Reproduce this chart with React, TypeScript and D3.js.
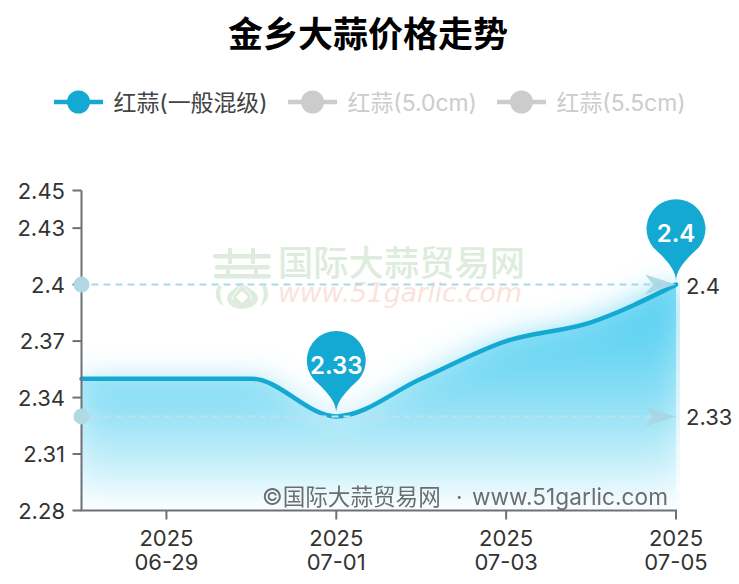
import React from 'react';
import * as d3 from 'd3';

const dates = ['2025-06-28', '2025-06-29', '2025-06-30', '2025-07-01', '2025-07-02', '2025-07-03', '2025-07-04', '2025-07-05'];
const values = [2.35, 2.35, 2.35, 2.33, 2.35, 2.37, 2.38, 2.4];
const yTicks = [2.28, 2.31, 2.34, 2.37, 2.4, 2.43, 2.45];
const xTicks = ['2025-06-29', '2025-07-01', '2025-07-03', '2025-07-05'];
const legendItems = ['红蒜(一般混级)', '红蒜(5.0cm)', '红蒜(5.5cm)'];
const markLines = [2.4, 2.33];
const markPoints = [
  { date: '2025-07-01', value: 2.33 },
  { date: '2025-07-05', value: 2.4 }
];

const WIDTH = 739;
const HEIGHT = 584;
const LEFT = 81.5;
const RIGHT = 676;
const TOP = 190.5;
const BOTTOM = 510.5;
const MAIN = '#14a9d2';
const AXIS = '#6e7079';
const FONT = 'Inter, "Noto Sans CJK SC", sans-serif';
const CJK = '"Noto Sans CJK SC", sans-serif';

const legendX = [54, 288, 497];

// 水印里的大蒜图标
function Logo() {
  return (
    <g fill="#deecde">
      <rect x={213} y={254} width={58} height={4.5} rx={2} />
      <rect x={228} y={248} width={4} height={16} />
      <rect x={251} y={248} width={4} height={16} />
      <rect x={215} y={265} width={55} height={4.5} rx={2} />
      <rect x={214} y={274} width={57} height={4.5} rx={2} />
      <rect x={226} y={265} width={4} height={10} />
      <rect x={254} y={265} width={4} height={10} />
      <path d="M242 282 C238 288 227 291 227 298 C227 305 235 309 242 309 C249 309 258 305 258 298 C258 291 246 288 242 282 Z" />
      <path d="M242 291 L248 297 L242 303 L236 297 Z" fill="#fff" />
      <path d="M242 284 C238 290 233 293 232 300 M242 284 C246 290 251 293 252 300" fill="none" stroke="#fff" strokeWidth={1} />
      <path d="M218 286 C214 292 215 302 224 306 C220 300 219 293 222 286 Z" />
      <path d="M266 286 C270 292 269 302 260 306 C264 300 265 293 262 286 Z" />
    </g>
  );
}

export default function App() {
  const x = d3
    .scalePoint()
    .domain(dates)
    .range([LEFT, RIGHT]);

  const y = d3
    .scaleLinear()
    .domain([2.28, 2.45])
    .range([BOTTOM, TOP]);

  const points = dates.map((d, i) => ({ date: d, value: values[i] }));

  const line: any = d3
    .line()
    .x((d: any) => x(d.date) || 0)
    .y((d: any) => y(d.value))
    .curve(d3.curveMonotoneX);

  const area: any = d3
    .area()
    .x((d: any) => x(d.date) || 0)
    .y1((d: any) => y(d.value))
    .y0(BOTTOM)
    .curve(d3.curveMonotoneX);

  // 大头针形状，tip 在 (0,0)，圆心在 tip 上方 h - r
  const pin = (r: number, h: number) => {
    const cy = -(h - r);
    const dx = r * 0.77;
    const dy = cy + r * 0.64;
    return `M0 0 C${-1} ${-10} ${-dx * 0.3} ${dy * 0.55} ${-dx} ${dy}
     A${r} ${r} 0 1 1 ${dx} ${dy}
     C${dx * 0.3} ${dy * 0.55} ${1} ${-10} 0 0 Z`;
  };

  return (
    <svg
      width={WIDTH}
      height={HEIGHT}
      viewBox={`0 0 ${WIDTH} ${HEIGHT}`}
      style={{ position: 'absolute', left: 0, top: 0, fontFamily: FONT }}
    >
      <defs>
        <linearGradient id="area-fill" x1={0} x2={0} y1={y(2.4)} y2={BOTTOM} gradientUnits="userSpaceOnUse">
          <stop offset="0%" stopColor="#4ccdf0" stopOpacity={0.7} />
          <stop offset="100%" stopColor="#4ccdf0" stopOpacity={0} />
        </linearGradient>
        <linearGradient id="shadow-fill" x1={0} x2={0} y1={y(2.4)} y2={BOTTOM} gradientUnits="userSpaceOnUse">
          <stop offset="0%" stopColor="#4ccdf0" stopOpacity={0.9} />
          <stop offset="100%" stopColor="#4ccdf0" stopOpacity={0} />
        </linearGradient>
        <filter id="area-blur" x="-20%" y="-40%" width="140%" height="180%">
          <feGaussianBlur stdDeviation={15} />
        </filter>
        <clipPath id="plot-clip">
          <rect x={LEFT} y={TOP} width={RIGHT - LEFT + 4} height={BOTTOM - TOP} />
        </clipPath>
      </defs>

      <text x={368} y={47} textAnchor="middle" fontSize={35} fontWeight={700} fill="#000" fontFamily={CJK}>
        金乡大蒜价格走势
      </text>

      {/* 图例 */}
      {legendItems.map((name, i) => {
        const color = i === 0 ? MAIN : '#cccccc';
        return (
          <g key={name}>
            <line x1={legendX[i]} x2={legendX[i] + 49} y1={102} y2={102} stroke={color} strokeWidth={4.5} />
            <circle cx={legendX[i] + 24.5} cy={102} r={11.5} fill={color} />
            <text x={legendX[i] + 59.5} y={110.5} fontSize={22.9} fill={i === 0 ? '#444' : '#ccc'}>
              {name}
            </text>
          </g>
        );
      })}

      {/* 水印 */}
      <Logo />
      <text x={278} y={276} fontSize={35.3} fontWeight={500} fill="#deecde" fontFamily={CJK}>
        国际大蒜贸易网
      </text>
      <text x={278} y={302} fontSize={27} fontStyle="italic" fill="#fbe3dc" textLength={244} fontFamily='"DejaVu Sans", sans-serif'>
        www.51garlic.com
      </text>

      {/* 面积 */}
      <g clipPath="url(#plot-clip)">
        <path d={area(points)} fill="url(#shadow-fill)" filter="url(#area-blur)" />
        <path d={area(points)} fill="url(#area-fill)" />
      </g>
      <path d={line(points)} fill="none" stroke={MAIN} strokeWidth={4.5} strokeLinecap="round" />

      {/* 坐标轴 */}
      <line x1={LEFT} x2={LEFT} y1={TOP} y2={BOTTOM} stroke={AXIS} strokeWidth={2} />
      <line x1={LEFT - 1} x2={RIGHT + 1} y1={BOTTOM} y2={BOTTOM} stroke={AXIS} strokeWidth={2} />
      {yTicks.map(t => (
        <g key={t}>
          <line x1={LEFT - 9} x2={LEFT} y1={y(t)} y2={y(t)} stroke={AXIS} strokeWidth={2} />
          <text x={65} y={y(t) + 8} textAnchor="end" fontSize={22} fill="#333">
            {t}
          </text>
        </g>
      ))}
      {xTicks.map(t => {
        const px = x(t) || 0;
        return (
          <g key={t}>
            <line x1={px} x2={px} y1={BOTTOM} y2={BOTTOM + 9} stroke={AXIS} strokeWidth={2} />
            <text textAnchor="middle" fontSize={22} fill="#333">
              <tspan x={px} y={546}>{t.slice(0, 4)}</tspan>
              <tspan x={px} y={570}>{t.slice(5)}</tspan>
            </text>
          </g>
        );
      })}

      {/* 标记线 */}
      {markLines.map((v, i) => {
        const py = y(v);
        const color = i === 0 ? '#a9d8e8' : '#c4dfe8';
        return (
          <g key={v}>
            <circle cx={LEFT} cy={py} r={8} fill="#b0d9e5" />
            <line x1={LEFT + 10} x2={RIGHT - 10} y1={py} y2={py} stroke={color} strokeWidth={2} strokeDasharray="7 5" />
            <path
              d={`M${RIGHT} ${py} L${RIGHT - 31} ${py - 10} L${RIGHT - 23} ${py} L${RIGHT - 31} ${py + 10} Z`}
              fill="#a9d5e2"
              opacity={0.9}
            />
            <text x={RIGHT + 10} y={py + 9} fontSize={22} fill="#333">
              {v}
            </text>
          </g>
        );
      })}

      {/* 标记点 */}
      {markPoints.map(p => {
        const px = x(p.date) || 0;
        const py = y(p.value);
        return (
          <g key={p.date} transform={`translate(${px},${py - 4.5})`}>
            <path d={pin(29.5, 81)} fill={MAIN} />
            <text y={-38} textAnchor="middle" fontSize={24} fontWeight={600} fill="#fff">
              {p.value}
            </text>
          </g>
        );
      })}

      <text y={505} fontSize={22.6} fill="#555" opacity={0.85}>
        <tspan x={262}>©国际大蒜贸易网</tspan>
        <tspan x={456}>·</tspan>
        <tspan x={472} textLength={196}>www.51garlic.com</tspan>
      </text>
    </svg>
  );
}
